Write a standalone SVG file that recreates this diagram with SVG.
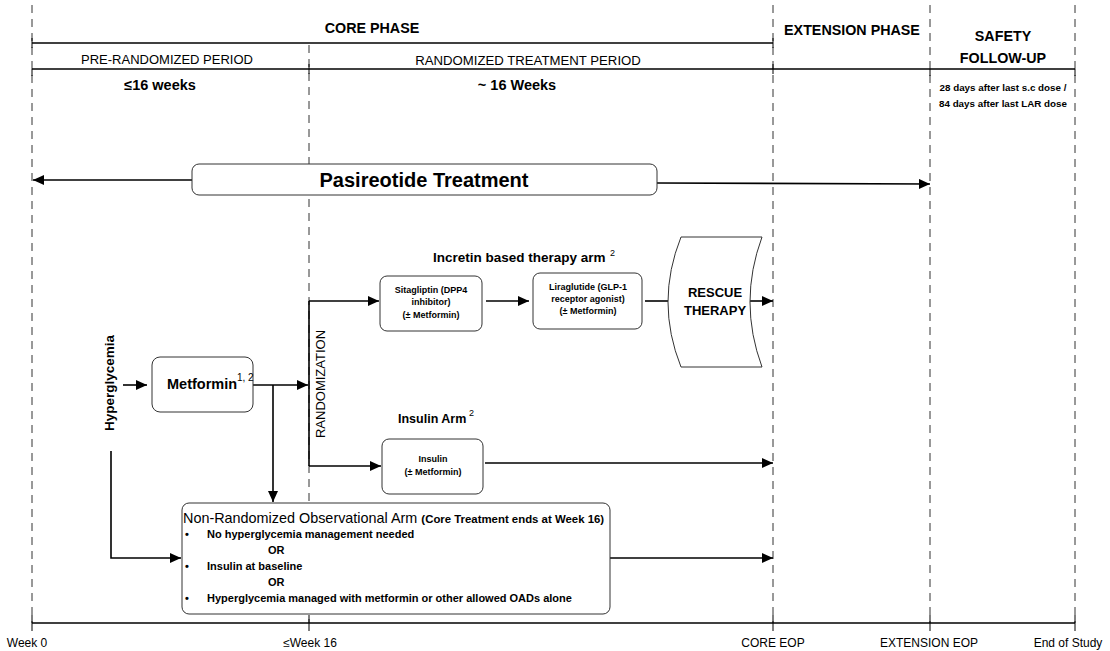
<svg xmlns="http://www.w3.org/2000/svg" width="1110" height="651" viewBox="0 0 1110 651">
<style>
text{font-family:"Liberation Sans",Arial,sans-serif;fill:#000}
.b{font-weight:bold}
.dash{stroke:#333;stroke-width:1;stroke-dasharray:8 6;fill:none}
.axis{stroke:#000;stroke-width:1.5;fill:none}
.tick{stroke:#000;stroke-width:1}
.box{fill:#fff;stroke:#333;stroke-width:1}
.conn{stroke:#000;stroke-width:1.6;fill:none}
</style>
<defs>
<marker id="ah" markerUnits="userSpaceOnUse" markerWidth="11" markerHeight="10" refX="11" refY="5" orient="auto">
<path d="M0,0 L11,5 L0,10 z" fill="#000"/>
</marker>
</defs>
<rect width="1110" height="651" fill="#fff"/>
<g id="timeline">
<line class="dash" x1="32" y1="5" x2="32" y2="623"/>
<line class="dash" x1="309" y1="45" x2="309" y2="623"/>
<line class="dash" x1="773" y1="5" x2="773" y2="623"/>
<line class="dash" x1="930" y1="5" x2="930" y2="623"/>
<line class="dash" x1="1075" y1="5" x2="1075" y2="623"/>
<line class="axis" x1="32" y1="43" x2="773" y2="43"/>
<line class="tick" x1="32" y1="38" x2="32" y2="48"/>
<line class="tick" x1="773" y1="38" x2="773" y2="48"/>
<line class="axis" x1="32" y1="69" x2="1075" y2="69"/>
<line class="tick" x1="32" y1="69" x2="32" y2="76"/>
<line class="tick" x1="309" y1="64" x2="309" y2="74"/>
<line class="tick" x1="773" y1="64" x2="773" y2="74"/>
<line class="tick" x1="930" y1="69" x2="930" y2="76"/>
<line class="tick" x1="1075" y1="69" x2="1075" y2="76"/>
<line class="axis" x1="32" y1="623" x2="1075" y2="623"/>
<line class="tick" x1="32" y1="615" x2="32" y2="631"/>
<line class="tick" x1="309" y1="615" x2="309" y2="631"/>
<line class="tick" x1="773" y1="615" x2="773" y2="631"/>
<line class="tick" x1="930" y1="615" x2="930" y2="631"/>
<line class="tick" x1="1075" y1="615" x2="1075" y2="631"/>
<text class="b" x="372" y="33" font-size="14.3" text-anchor="middle">CORE PHASE</text>
<text class="b" x="852" y="35" font-size="14.3" text-anchor="middle">EXTENSION PHASE</text>
<text class="b" x="1003" y="41" font-size="14.3" text-anchor="middle">SAFETY</text>
<text class="b" x="1003" y="63" font-size="14.3" text-anchor="middle">FOLLOW-UP</text>
<text x="167" y="64" font-size="13" text-anchor="middle">PRE-RANDOMIZED PERIOD</text>
<text x="528" y="65" font-size="13.2" text-anchor="middle">RANDOMIZED TREATMENT PERIOD</text>
<text class="b" x="160" y="90" font-size="14.5" text-anchor="middle">≤16 weeks</text>
<text class="b" x="517" y="90" font-size="14.5" text-anchor="middle">~ 16 Weeks</text>
<text class="b" x="1003" y="91" font-size="9.8" text-anchor="middle">28 days after last s.c dose /</text>
<text class="b" x="1003" y="107" font-size="9.8" text-anchor="middle">84 days after last LAR dose</text>
<text x="27" y="647" font-size="12" text-anchor="middle">Week 0</text>
<text x="310" y="647" font-size="12" text-anchor="middle">≤Week 16</text>
<text x="773" y="647" font-size="12" text-anchor="middle">CORE EOP</text>
<text x="929" y="647" font-size="12" text-anchor="middle">EXTENSION EOP</text>
<text x="1068" y="647" font-size="12" text-anchor="middle">End of Study</text>
</g>
<g id="connectors">
<line class="conn" x1="192" y1="180" x2="33" y2="180" marker-end="url(#ah)"/>
<line class="conn" x1="657" y1="183" x2="930" y2="184" marker-end="url(#ah)"/>
<line class="conn" x1="123" y1="385" x2="147" y2="385" marker-end="url(#ah)"/>
<line class="conn" x1="253" y1="385" x2="308" y2="385" marker-end="url(#ah)"/>
<polyline class="conn" points="273,385 273,502" marker-end="url(#ah)"/>
<polyline class="conn" points="309,301 309,466"/>
<line class="conn" x1="309" y1="301" x2="379" y2="301" marker-end="url(#ah)"/>
<line class="conn" x1="309" y1="466" x2="381" y2="466" marker-end="url(#ah)"/>
<line class="conn" x1="486" y1="301" x2="529" y2="301" marker-end="url(#ah)"/>
<line class="conn" x1="645" y1="301" x2="669" y2="301"/>
<line class="conn" x1="750" y1="301" x2="773" y2="301" marker-end="url(#ah)"/>
<line class="conn" x1="485" y1="463" x2="773" y2="463" marker-end="url(#ah)"/>
<polyline class="conn" points="111,451 111,558 181,558" marker-end="url(#ah)"/>
<line class="conn" x1="610" y1="558" x2="773" y2="558" marker-end="url(#ah)"/>
</g>
<g id="pasireotide">
<rect class="box" x="192" y="164" width="465" height="31" rx="7"/>
<text class="b" x="424" y="187" font-size="20" text-anchor="middle">Pasireotide Treatment</text>
</g>
<g id="hyperglycemia">
<text class="b" transform="translate(114,383) rotate(-90)" font-size="13.5" text-anchor="middle">Hyperglycemia</text>
</g>
<g id="metformin">
<rect class="box" x="152" y="357" width="101" height="55" rx="8"/>
<text class="b" x="167" y="389" font-size="14.5">Metformin</text>
<text x="237" y="381" font-size="10">1, 2</text>
</g>
<g id="randomization">
<text transform="translate(325,384) rotate(-90)" font-size="13" text-anchor="middle">RANDOMIZATION</text>
</g>
<g id="incretin-arm">
<text class="b" x="433" y="262" font-size="13.5">Incretin based therapy arm</text>
<text x="610" y="256" font-size="9">2</text>
</g>
<g id="sitagliptin">
<rect class="box" x="380" y="276" width="102" height="55" rx="7"/>
<text class="b" x="431" y="293" font-size="9" text-anchor="middle">Sitagliptin (DPP4</text>
<text class="b" x="431" y="305" font-size="9" text-anchor="middle">inhibitor)</text>
<text class="b" x="431" y="318" font-size="9" text-anchor="middle">(± Metformin)</text>
</g>
<g id="liraglutide">
<rect class="box" x="533" y="273" width="109" height="56" rx="7"/>
<text class="b" x="588" y="290" font-size="9" text-anchor="middle">Liraglutide (GLP-1</text>
<text class="b" x="588" y="302" font-size="9" text-anchor="middle">receptor agonist)</text>
<text class="b" x="588" y="314" font-size="9" text-anchor="middle">(± Metformin)</text>
</g>
<g id="rescue">
<path class="box" d="M681,237 L762,237 Q738,302 762,367 L681,367 Q655,302 681,237 Z"/>
<text class="b" x="715" y="297" font-size="13" text-anchor="middle">RESCUE</text>
<text class="b" x="715" y="315" font-size="13" text-anchor="middle">THERAPY</text>
</g>
<g id="insulin-arm">
<text class="b" x="398" y="423" font-size="12.5">Insulin Arm</text>
<text x="469" y="416" font-size="9">2</text>
</g>
<g id="insulin">
<rect class="box" x="382" y="439" width="101" height="55" rx="7"/>
<text class="b" x="433" y="462" font-size="9" text-anchor="middle">Insulin</text>
<text class="b" x="433" y="475" font-size="9" text-anchor="middle">(± Metformin)</text>
</g>
<g id="non-randomized">
<rect class="box" x="182" y="503" width="428" height="111" rx="7"/>
<text x="183" y="523" font-size="14.4">Non-Randomized Observational Arm <tspan class="b" font-size="11.4">(Core Treatment ends at Week 16)</tspan></text>
<text class="b" x="185" y="538" font-size="11">•</text>
<text class="b" x="207" y="538" font-size="11">No hyperglycemia management needed</text>
<text class="b" x="268" y="554" font-size="11">OR</text>
<text class="b" x="185" y="570" font-size="11">•</text>
<text class="b" x="207" y="570" font-size="11">Insulin at baseline</text>
<text class="b" x="268" y="586" font-size="11">OR</text>
<text class="b" x="185" y="602" font-size="11">•</text>
<text class="b" x="207" y="602" font-size="11">Hyperglycemia managed with metformin or other allowed OADs alone</text>
</g>
</svg>
